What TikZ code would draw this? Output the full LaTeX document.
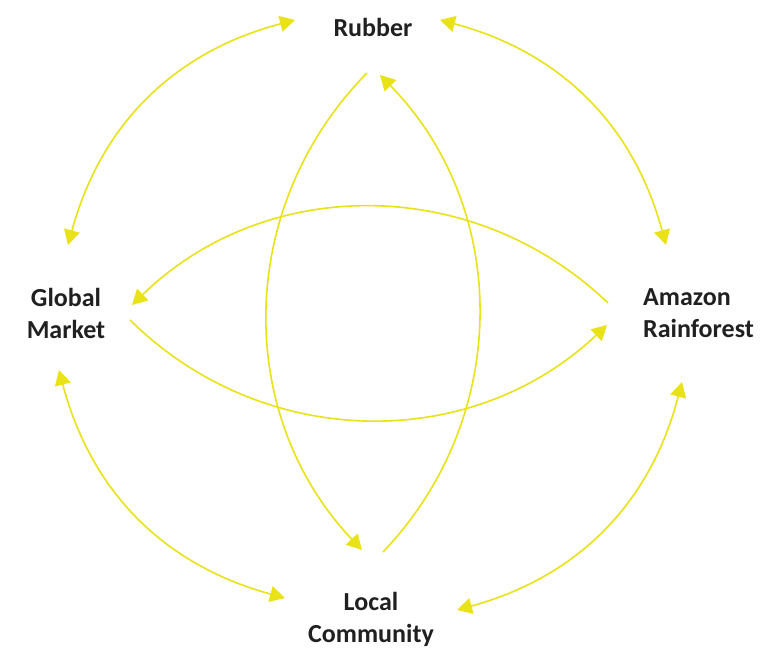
\documentclass[tikz,border=0pt]{standalone}
\usepackage{fontspec}
\setmainfont{Carlito}
\usetikzlibrary{arrows.meta}
\definecolor{jaune}{RGB}{232,226,22}
\definecolor{encre}{RGB}{32,32,32}
\begin{document}
\begin{tikzpicture}[x=1pt,y=-1pt]
	% Styles (MODIFIABLES)
	\tikzstyle{fleche}=[-{Triangle[length=15pt,width=16pt]},line width=1.6pt,draw=jaune,fill=none]
	\tikzstyle{flechedouble}=[{Triangle[length=15pt,width=16pt]}-{Triangle[length=15pt,width=16pt]},line width=1.6pt,draw=jaune]
	\tikzstyle{etiquette}=[font=\bfseries\fontsize{26}{32}\selectfont,text=encre,inner sep=0pt]
	% Dimensions (MODIFIABLES)
	\def\ArcExterieur{30}
	\def\ArcInterieur{44}
	% Cadre
	\useasboundingbox (0,0) rectangle (761,648);
	% Noeuds
	\node[etiquette] (Rub) at (373,27) {Rubber};
	\node[etiquette,align=center] (Glob) at (66,313) {Global\\Market};
	\node[etiquette,align=left,anchor=west] (Amaz) at (643,313) {Amazon\\Rainforest};
	\node[etiquette,align=center] (Loc) at (371,619) {Local\\Community};
	% Arcs exterieurs (doubles)
	\draw[flechedouble] ([shift={(-78,-7)}]Rub.center) to[bend right=\ArcExterieur] ([shift={(2,-68)}]Glob.center);
	\draw[flechedouble] ([shift={(67,-7)}]Rub.center) to[bend left=\ArcExterieur] ([shift={(23,-68)}]Amaz.west);
	\draw[flechedouble] ([shift={(-7,57)}]Glob.center) to[bend right=\ArcExterieur] ([shift={(-86,-21)}]Loc.center);
	\draw[flechedouble] ([shift={(86,-9)}]Loc.center) to[bend right=\ArcExterieur] ([shift={(39,69)}]Amaz.west);
	% Arcs interieurs
	\draw[fleche] ([shift={(-6,46)}]Rub.center) to[bend right=\ArcInterieur] ([shift={(-9,-69)}]Loc.center);
	\draw[fleche] ([shift={(12,-67)}]Loc.center) to[bend right=\ArcInterieur] ([shift={(7,48)}]Rub.center);
	\draw[fleche] ([shift={(-35,-10)}]Amaz.west) to[bend right=\ArcInterieur] ([shift={(66,-8)}]Glob.center);
	\draw[fleche] ([shift={(64,7)}]Glob.center) to[bend right=\ArcInterieur] ([shift={(-36,12)}]Amaz.west);
\end{tikzpicture}
\end{document}
